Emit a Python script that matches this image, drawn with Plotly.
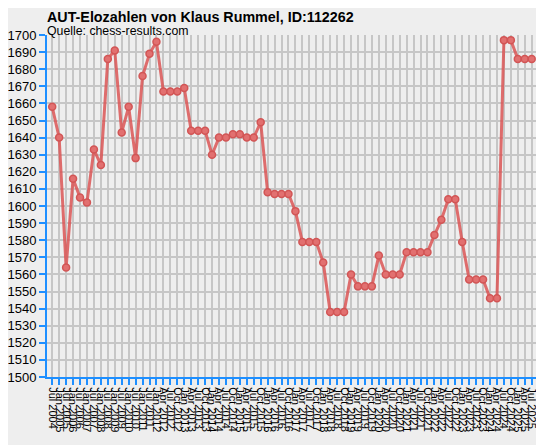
import plotly.graph_objs as go

# rating periods: half-yearly until Jan 2012, quarterly after that
periods = ["Jul 2004", "Jan 2005", "Jul 2005", "Jan 2006", "Jul 2006", "Jan 2007",
           "Jul 2007", "Jan 2008", "Jul 2008", "Jan 2009", "Jul 2009", "Jan 2010",
           "Jul 2010", "Jan 2011", "Jul 2011", "Jan 2012",
           "Apr 2012", "Jul 2012", "Oct 2012"]
for year in range(2013, 2025):
    periods += ["Jan %d" % year, "Apr %d" % year, "Jul %d" % year, "Oct %d" % year]
periods += ["Jan 2025", "Apr 2025", "Jul 2025"]

elo = [1658, 1640, 1564, 1616, 1605, 1602, 1633, 1624, 1686, 1691,
       1643, 1658, 1628, 1676, 1689, 1696, 1667, 1667, 1667, 1669,
       1644, 1644, 1644, 1630, 1640, 1640, 1642, 1642, 1640, 1640,
       1649, 1608, 1607, 1607, 1607, 1597, 1579, 1579, 1579, 1567,
       1538, 1538, 1538, 1560, 1553, 1553, 1553, 1571, 1560, 1560,
       1560, 1573, 1573, 1573, 1573, 1583, 1592, 1604, 1604, 1579,
       1557, 1557, 1557, 1546, 1546, 1697, 1697, 1686, 1686, 1686]

title = "AUT-Elozahlen von Klaus Rummel, ID:112262"
source = "Quelle: chess-results.com"

idx = list(range(len(periods)))
blue = "#1E8FFF"
grid = "#C6C6C6"

fig = go.Figure()

fig.add_trace(go.Scatter(x=idx, y=elo, mode="lines+markers",
                         line=dict(color="rgba(218,85,85,0.85)", width=3),
                         marker=dict(size=7, color="rgba(226,112,112,1)",
                                     line=dict(color="rgba(210,85,85,1)", width=1.5)),
                         hoverinfo="x+y", name="Elo"))

# the page body adds 8px at top/left, so the figure is 8px smaller than the window
fig.update_layout(
    width=536, height=437,
    margin=dict(l=39, r=5, t=27, b=68),
    paper_bgcolor="#EEEEEE", plot_bgcolor="#EEEEEE",
    font=dict(family="Liberation Sans, Arial, sans-serif", color="black"),
    showlegend=False,
    annotations=[
        dict(text="<b>" + title + "</b>", xref="paper", yref="paper", x=0, y=1.0,
             xshift=-2, yshift=28.5, xanchor="left", yanchor="top", showarrow=False,
             font=dict(size=14.3)),
        dict(text=source, xref="paper", yref="paper", x=0, y=1.0,
             xshift=-2, yshift=13, xanchor="left", yanchor="top", showarrow=False,
             font=dict(size=12.3)),
    ],
)

fig.update_xaxes(range=[-0.75, 70.05], tickmode="array", tickvals=idx, ticktext=periods,
                 tickangle=90, tickfont=dict(size=11), automargin=False,
                 showgrid=True, gridcolor=grid, gridwidth=1.5,
                 showline=True, linecolor=blue, linewidth=2,
                 ticks="outside", ticklen=6, tickwidth=2, tickcolor=blue,
                 minor=dict(tick0=0, dtick=1, showgrid=True, gridcolor=grid,
                            gridwidth=1.5, ticks=""),
                 zeroline=False, fixedrange=True)

fig.update_yaxes(range=[1500, 1700], dtick=10, tickfont=dict(size=13), automargin=False,
                 showgrid=True, gridcolor=grid, gridwidth=1.5,
                 showline=True, linecolor=blue, linewidth=2,
                 ticks="outside", ticklen=6, tickwidth=2, tickcolor=blue,
                 zeroline=False, fixedrange=True)

fig.write_html("out.html")
